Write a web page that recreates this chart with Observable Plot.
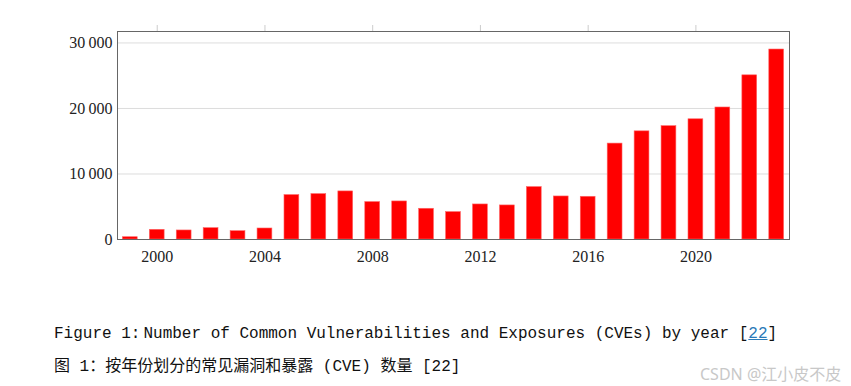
<!DOCTYPE html>
<html>
<head>
<meta charset="utf-8">
<script src="https://cdn.jsdelivr.net/npm/d3@7"></script>
<script src="https://cdn.jsdelivr.net/npm/@observablehq/plot@0.6"></script>
<style>
  html, body { margin: 0; padding: 0; background: #fff; }
  #wrap { position: relative; width: 851px; height: 386px; overflow: hidden; }
  #chart { position: absolute; left: 0; top: 0; }
  .cap { position: absolute; left: 54px; white-space: pre; font-family: "Liberation Mono", "Noto Sans CJK SC", monospace; font-size: 16px; color: #111; }
  .cap a { color: #2a7ab8; text-decoration: underline; }
  #wm { position: absolute; left: 700px; top: 361px; font-family: "Noto Sans", "Noto Sans CJK SC", sans-serif; font-size: 16px; color: #c8c8c8; white-space: pre; }
</style>
</head>
<body>
<div id="wrap">
  <div id="chart"></div>
  <div class="cap" style="top:325px">Figure 1:<span style="margin-left:3px"></span>Number of Common Vulnerabilities and Exposures (CVEs) by year [<a>22</a>]</div>
  <div class="cap" style="top:352px">图 1：按年份划分的常见漏洞和暴露 (CVE) 数量 [22]</div>
  <div id="wm">CSDN @江小皮不皮</div>
</div>
<script>
const years = [1999,2000,2001,2002,2003,2004,2005,2006,2007,2008,2009,2010,2011,2012,2013,2014,2015,2016,2017,2018,2019,2020,2021,2022,2023];
const cves  = [350,1480,1380,1730,1270,1680,6780,6930,7340,5710,5810,4690,4180,5350,5200,8000,6570,6520,14640,16510,17300,18350,20150,25060,29000];
const xTicks = [2000,2004,2008,2012,2016,2020];
const yTicks = [0,10000,20000,30000];

const data = years.map((y, i) => ({year: y, count: cves[i]}));
const fmt = d => d3.format(",")(d).replace(",", "\u2009");

const chart = Plot.plot({
  width: 851,
  height: 300,
  marginLeft: 117,
  marginRight: 62,
  marginTop: 31,
  marginBottom: 61,
  style: {fontFamily: "'Liberation Serif', 'DejaVu Serif', serif", fontSize: "16px", color: "#222"},
  x: {type: "band", domain: years, paddingInner: 0.45, paddingOuter: 0.2, round: false},
  y: {domain: [0, 31750]},
  marks: [
    Plot.gridY(yTicks.slice(1), {stroke: "#ddd", strokeOpacity: 1}),
    Plot.barY(data, {x: "year", y: "count", fill: "#ff0000", stroke: "#ff6666", strokeWidth: 0.6}),
    Plot.axisY(yTicks, {tickSize: 0, tickPadding: 5, tickFormat: fmt, label: null, fontSize: 16}),
    Plot.axisX(xTicks, {anchor: "bottom", tickSize: 0, tickPadding: 11, tickFormat: d => String(d), label: null, fontSize: 16}),
    Plot.axisX(xTicks, {anchor: "top", tickSize: 7, tickFormat: () => "", stroke: "#ccc", label: null}),
    Plot.frame({stroke: "#666", strokeWidth: 1})
  ]
});
document.getElementById("chart").appendChild(chart);
</script>
</body>
</html>
